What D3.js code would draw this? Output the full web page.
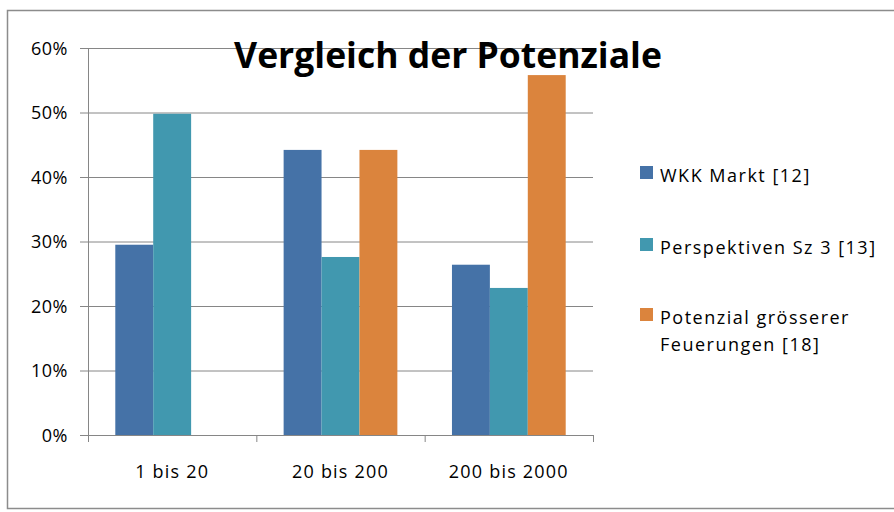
<!DOCTYPE html>
<html lang="de">
<head>
<meta charset="UTF-8">
<title>Vergleich der Potenziale</title>
<script src="https://d3js.org/d3.v7.min.js"></script>
<style>
  body { margin: 0; background: #fff; }
  text { font-family: "Open Sans", "DejaVu Sans", sans-serif; fill: #000; }
</style>
</head>
<body>
<svg id="chart" width="894" height="512"></svg>
<script>
// values (percent)
const categories = ["1 bis 20", "20 bis 200", "200 bis 2000"];
const seriesNames = ["WKK Markt [12]", "Perspektiven Sz 3 [13]", "Potenzial grösserer Feuerungen [18]"];
const wkkMarkt = [29.5, 44.2, 26.4];
const perspektiven = [49.8, 27.6, 22.8];
const potenzial = [null, 44.2, 55.8];
const yTicks = [0, 10, 20, 30, 40, 50, 60];
const colors = ["#4572a7", "#4198af", "#db843d"];

const allSeries = [wkkMarkt, perspektiven, potenzial];

const svg = d3.select("#chart");

// outer frame
svg.append("rect")
  .attr("x", 7.5).attr("y", 10.5)
  .attr("width", 892).attr("height", 498)
  .attr("fill", "none").attr("stroke", "#8c8c8c").attr("stroke-width", 1.5);

const plotLeft = 88, plotRight = 593, plotTop = 48, plotBottom = 435;

var y = d3.scaleLinear().domain([0, 60]).range([plotBottom, plotTop]);
var x = d3.scaleBand().domain(categories).range([plotLeft, plotRight]);
var x1 = d3.scaleBand().domain(d3.range(3)).range([0, x.bandwidth()])
  .paddingInner(0).paddingOuter(0.72);

// gridlines + y axis
const yAxis = svg.append("g")
  .attr("transform", "translate(" + plotLeft + ",0)")
  .call(d3.axisLeft(y).tickValues(yTicks).tickSize(8).tickFormat(d => d + "%"));
yAxis.select(".domain").attr("stroke", "#868686");
yAxis.selectAll(".tick line").attr("stroke", "#868686");
yAxis.selectAll(".tick text")
  .attr("x", -20).attr("dy", "0.36em")
  .style("font-size", "18px").style("letter-spacing", "0.5px")
  .attr("fill", "#000");

svg.append("g").selectAll("line")
  .data(yTicks.filter(d => d > 0))
  .enter().append("line")
  .attr("x1", plotLeft).attr("x2", plotRight)
  .attr("y1", d => y(d) + 0.5).attr("y2", d => y(d) + 0.5)
  .attr("stroke", "#868686").attr("stroke-width", 1);

// bars
const groups = svg.append("g").selectAll("g")
  .data(categories).enter().append("g")
  .attr("transform", d => "translate(" + x(d) + ",0)");

groups.selectAll("rect")
  .data((c, ci) => allSeries.map((s, si) => ({ si: si, v: s[ci] })).filter(d => d.v != null))
  .enter().append("rect")
  .attr("x", d => x1(d.si))
  .attr("width", x1.bandwidth())
  .attr("y", d => y(d.v))
  .attr("height", d => y(0) - y(d.v))
  .attr("fill", d => colors[d.si]);

// x axis
const xAxis = svg.append("g")
  .attr("transform", "translate(0," + plotBottom + ")");
xAxis.append("line")
  .attr("x1", plotLeft).attr("x2", plotRight).attr("y1", 0.5).attr("y2", 0.5)
  .attr("stroke", "#868686");
const bounds = categories.map(c => x(c)).concat([plotRight]);
xAxis.selectAll(".xt").data(bounds).enter().append("line")
  .attr("x1", d => d + 0.5).attr("x2", d => d + 0.5)
  .attr("y1", 0).attr("y2", 7).attr("stroke", "#868686");
xAxis.selectAll(".xl").data(categories).enter().append("text")
  .attr("x", d => x(d) + x.bandwidth() / 2)
  .attr("y", 43)
  .attr("text-anchor", "middle")
  .style("font-size", "18px").style("letter-spacing", "1.2px")
  .text(d => d);

// title
svg.append("text")
  .attr("x", 448).attr("y", 68)
  .attr("text-anchor", "middle")
  .style("font-size", "35.5px").style("font-weight", "bold")
  .text("Vergleich der Potenziale");

// legend
const legendY = [166, 238, 308];
const legend = svg.append("g");
seriesNames.forEach(function(name, i) {
  legend.append("rect")
    .attr("x", 640).attr("y", legendY[i])
    .attr("width", 13).attr("height", 13)
    .attr("fill", colors[i]);
  const lines = i == 2 ? ["Potenzial grösserer", "Feuerungen [18]"] : [name];
  lines.forEach(function(l, j) {
    legend.append("text")
      .attr("x", 660).attr("y", legendY[i] + 16 + j * 27)
      .style("font-size", "18px").style("letter-spacing", "1.5px")
      .text(l);
  });
});
</script>
</body>
</html>
